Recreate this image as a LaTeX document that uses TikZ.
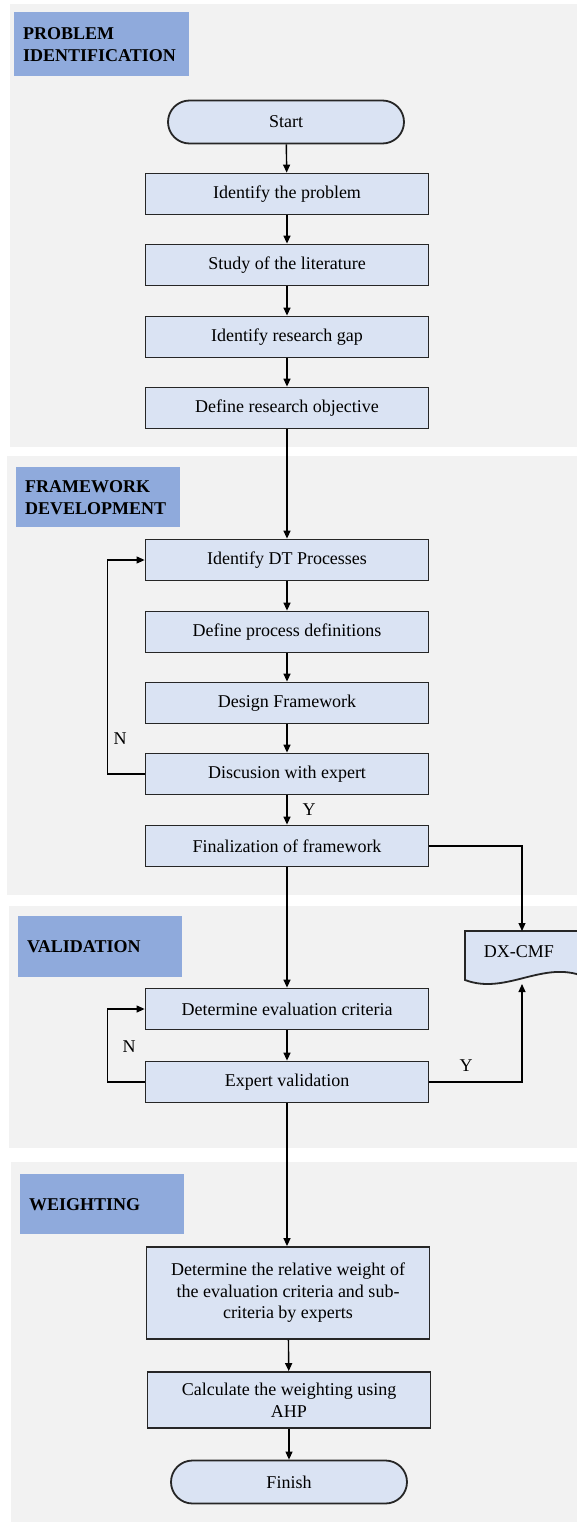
\documentclass[tikz,border=0pt]{standalone}
\usepackage{fontspec}
\setmainfont{Liberation Serif}
\usetikzlibrary{arrows.meta,shapes.misc}
\definecolor{panelgray}{HTML}{F2F2F2}
\definecolor{titleblue}{HTML}{8FAADC}
\definecolor{boxblue}{HTML}{DAE3F3}
\tikzset{
  procbox/.style={draw=black!85, line width=1.8, fill=boxblue, minimum width=283,
    minimum height=41, inner sep=0, align=center, font=\fontsize{18}{21.5}\selectfont},
  termbox/.style={procbox, rounded rectangle, minimum width=236, minimum height=43},
  stagebox/.style={fill=titleblue, anchor=north west, inner xsep=9, inner ysep=0,
    align=left, font=\fontsize{18}{22}\selectfont\bfseries},
  flow/.style={-{Triangle[length=8,width=7]}, line width=1.4},
  back/.style={-{Triangle[length=8,width=7]}, line width=1.1},
  lbl/.style={font=\fontsize{18}{20}\selectfont}
}
\begin{document}
\begin{tikzpicture}[x=1pt, y=-1pt]
\useasboundingbox (0,0) rectangle (577,1526);
\fill[white] (0,0) rectangle (577,1526);
% background panels
\fill[panelgray] (10,4) rectangle (577,447);
\fill[panelgray] (7,456) rectangle (577,895);
\fill[panelgray] (9,906) rectangle (577,1148);
\fill[panelgray] (11,1162) rectangle (577,1522);
% stage titles
\node[stagebox, minimum width=175, minimum height=64, text width=157] (tprob) at (14,12) {PROBLEM\\IDENTIFICATION};
\node[stagebox, minimum width=164, minimum height=60, text width=146] (tframe) at (16,467) {FRAMEWORK\\DEVELOPMENT};
\node[stagebox, minimum width=164, minimum height=61, text width=146] (tvalid) at (18,916) {VALIDATION};
\node[stagebox, minimum width=164, minimum height=60, text width=146] (tweight) at (20,1174) {WEIGHTING};

% problem identification
\node[termbox] (start) at (286,122) {Start};
\node[procbox] (idprob) at (287,194) {Identify the problem};
\node[procbox] (study) at (287,265) {Study of the literature};
\node[procbox] (gap) at (287,337) {Identify research gap};
\node[procbox] (objective) at (287,408) {Define research objective};

% framework development
\node[procbox] (idproc) at (287,560) {Identify DT Processes};
\node[procbox] (defproc) at (287,632) {Define process definitions};
\node[procbox] (design) at (287,703) {Design Framework};
\node[procbox] (discuss) at (287,774) {Discusion with expert};
\node[procbox] (final) at (287,846) {Finalization  of framework};

% output document
\draw[fill=boxblue, draw=black!85, line width=1.8] (465,931) -- (580,931) -- (580,975)
  .. controls (540,962) and (505,995) .. (465,980) -- cycle;
\node[lbl] (dxcmf) at (519,952) {DX-CMF};
\coordinate (dxtop) at (522,931);
\coordinate (dxbot) at (522,984);

% validation
\node[procbox] (criteria) at (287,1009) {Determine  evaluation  criteria};
\node[procbox] (expval) at (287,1082) {Expert validation};

% weighting
\node[procbox, minimum height=92] (relweight) at (288,1293) {Determine  the relative  weight of\\the evaluation  criteria and sub-\\criteria  by experts};
\node[procbox, minimum height=56] (ahp) at (289,1400) {Calculate  the weighting using\\AHP};
\node[termbox] (finish) at (289,1482) {Finish};

% connectors
\draw[flow] (start) -- (idprob);
\draw[flow] (idprob) -- (study);
\draw[flow] (study) -- (gap);
\draw[flow] (gap) -- (objective);
\draw[flow] (objective) -- (idproc);
\draw[flow] (idproc) -- (defproc);
\draw[flow] (defproc) -- (design);
\draw[flow] (design) -- (discuss);
\draw[back] (discuss.west) -- ++(-37,0) |- (idproc.west);
\node[lbl] (nframe) at (120,739) {N};
\draw[flow] (discuss) -- (final);
\node[lbl] (yframe) at (309,810) {Y};
\draw[back] (final.east) -| (dxtop);
\draw[flow] (final) -- (criteria);
\draw[flow] (criteria) -- (expval);
\draw[back] (expval.west) -- ++(-37,0) |- (criteria.west);
\node[lbl] (nvalid) at (129,1047) {N};
\draw[back] (expval.east) -| (dxbot);
\node[lbl] (yvalid) at (466,1066) {Y};
\draw[flow] (expval.south) -- (expval.south |- relweight.north);
\draw[flow] (relweight) -- (ahp);
\draw[back] (ahp) -- (finish);
\end{tikzpicture}
\end{document}
